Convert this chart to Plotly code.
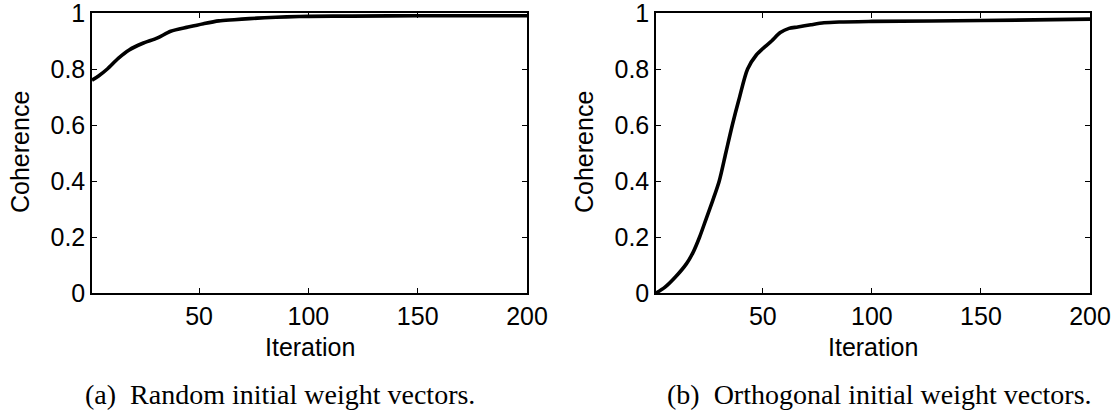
import plotly.graph_objects as go

W, H = 1116, 411

# Data
iter_a = [1, 4, 8, 13, 18, 24, 31, 37, 45, 52, 59, 66, 73, 80, 90, 100, 120, 150, 200]
coh_a = [0.76, 0.775, 0.80, 0.838, 0.868, 0.891, 0.911, 0.935, 0.95, 0.962, 0.972,
         0.976, 0.98, 0.983, 0.986, 0.988, 0.989, 0.99, 0.99]

iter_b = [1, 5, 10, 15, 18, 21, 24, 27, 30, 33, 36, 39, 43, 47, 51, 54, 58, 62, 66,
          72, 78, 85, 100, 150, 200]
coh_b = [0.0, 0.02, 0.058, 0.105, 0.145, 0.2, 0.265, 0.33, 0.4, 0.5, 0.6, 0.69,
         0.8, 0.85, 0.88, 0.9, 0.93, 0.945, 0.95, 0.958, 0.965, 0.968, 0.97,
         0.973, 0.978]

x_ticks = [50, 100, 150, 200]
y_ticks = [0, 0.2, 0.4, 0.6, 0.8, 1]
y_tick_text = ["0", "0.2", "0.4", "0.6", "0.8", "1"]
captions = ["(a)  Random initial weight vectors.", "(b)  Orthogonal initial weight vectors."]

# plot boxes in pixels
boxes = [(92, 527), (656, 1090)]
top, bottom = 13, 293

fig = go.Figure()
for xs, ys, xa, ya in [(iter_a, coh_a, "x", "y"), (iter_b, coh_b, "x2", "y2")]:
    fig.add_trace(go.Scatter(x=xs, y=ys, mode="lines",
                             line=dict(color="black", width=3.6, shape="spline", smoothing=0.8),
                             xaxis=xa, yaxis=ya, showlegend=False, cliponaxis=False))

sans = "Liberation Sans, Arial, sans-serif"
serif = "Liberation Serif, Times New Roman, serif"
axfont = dict(family=sans, size=25, color="black")

def xaxis(dom, anchor):
    return dict(domain=dom, anchor=anchor, range=[1, 200], tickvals=x_ticks,
                ticks="inside", ticklen=5, tickcolor="black", tickwidth=1,
                showline=True, linecolor="black", linewidth=1.5, mirror="ticks",
                showgrid=False, zeroline=False, tickfont=axfont,
                ticklabeloverflow="allow", automargin=False)

def yaxis(anchor):
    return dict(domain=[1 - bottom / H, 1 - top / H], anchor=anchor, range=[0, 1],
                tickvals=y_ticks, ticktext=y_tick_text,
                ticks="inside", ticklen=5, tickcolor="black", tickwidth=1,
                showline=True, linecolor="black", linewidth=1.5, mirror="ticks",
                showgrid=False, zeroline=False, tickfont=axfont,
                ticklabeloverflow="allow", automargin=False)

annotations = []
caption_centers = [280, 879]
for i, (l, r) in enumerate(boxes):
    cx = (l + r) / 2
    annotations.append(dict(text="Iteration", x=cx / W, y=1 - 347 / H, xref="paper", yref="paper",
                            xanchor="center", yanchor="middle", showarrow=False, font=axfont))
    annotations.append(dict(text="Coherence", x=(l - 72) / W, y=1 - 152 / H, xref="paper", yref="paper",
                            xanchor="center", yanchor="middle", showarrow=False, textangle=-90,
                            font=axfont))
    annotations.append(dict(text=captions[i], x=caption_centers[i] / W, y=1 - 394 / H,
                            xref="paper", yref="paper", xanchor="center", yanchor="middle",
                            showarrow=False, font=dict(family=serif, size=28, color="black")))

fig.update_layout(
    width=W, height=H, margin=dict(l=0, r=0, t=0, b=0, autoexpand=False),
    paper_bgcolor="white", plot_bgcolor="white",
    xaxis=xaxis([boxes[0][0] / W, boxes[0][1] / W], "y"),
    yaxis=yaxis("x"),
    xaxis2=xaxis([boxes[1][0] / W, boxes[1][1] / W], "y2"),
    yaxis2=yaxis("x2"),
    annotations=annotations,
)

fig.write_html("out.html")
